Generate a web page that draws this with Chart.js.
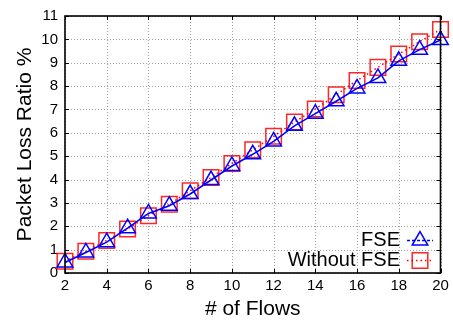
<!DOCTYPE html>
<html>
<head>
<meta charset="utf-8">
<script src="https://cdn.jsdelivr.net/npm/chart.js@4/dist/chart.umd.min.js"></script>
<style>
  html, body { margin: 0; padding: 0; background: #fff; }
  #wrap { width: 453px; height: 322px; }
</style>
</head>
<body>
<div id="wrap"><canvas id="chart" width="453" height="322"></canvas></div>
<script>
// Pérdida de paquetes vs número de flujos
const FLOWS = [2, 3, 4, 5, 6, 7, 8, 9, 10, 11, 12, 13, 14, 15, 16, 17, 18, 19, 20];
const FSE = [0.45, 0.88, 1.32, 1.92, 2.55, 2.88, 3.38, 3.98, 4.58, 5.08, 5.63, 6.3, 6.82, 7.35, 7.9, 8.35, 9.08, 9.56, 9.97];
const SIN_FSE = [0.5, 0.93, 1.39, 1.88, 2.45, 2.94, 3.52, 4.09, 4.69, 5.27, 5.85, 6.46, 7.02, 7.63, 8.24, 8.8, 9.37, 9.9, 10.42];
const SERIES_LABELS = ['FSE', 'Without FSE'];
const X_TITLE = '# of Flows';
const Y_TITLE = 'Packet Loss Ratio %';

const AZUL = '#0000ff';
const ROJO = '#ff0000';
const FUENTE = '"Liberation Sans", Arial, Helvetica, sans-serif';

const puntos = (vals) => FLOWS.map((f, i) => ({ x: f, y: vals[i] }));

// Grilla punteada gris (la de Chart.js sale demasiado sólida)
const grillaPlugin = {
  id: 'grilla',
  beforeDatasetsDraw(chart) {
    const { ctx, chartArea: a, scales } = chart;
    ctx.save();
    ctx.strokeStyle = '#a0a0a0';
    ctx.lineWidth = 1;
    ctx.setLineDash([1, 2]);
    ctx.beginPath();
    scales.x.ticks.forEach((tk) => {
      const px = Math.round(scales.x.getPixelForValue(tk.value)) + 0.5;
      ctx.moveTo(px, a.top); ctx.lineTo(px, a.bottom);
    });
    scales.y.ticks.forEach((tk) => {
      const py = Math.round(scales.y.getPixelForValue(tk.value)) + 0.5;
      ctx.moveTo(a.left, py); ctx.lineTo(a.right, py);
    });
    ctx.stroke();
    ctx.restore();
  },
};

// Marco negro + ticks hacia adentro en los cuatro lados (estilo gnuplot)
const marcoPlugin = {
  id: 'marco',
  afterDatasetsDraw(chart) {
    const { ctx, chartArea: a, scales } = chart;
    ctx.save();
    ctx.strokeStyle = '#000';
    ctx.lineWidth = 1;
    const t = 4;
    ctx.beginPath();
    scales.x.ticks.forEach((tk) => {
      const px = Math.round(scales.x.getPixelForValue(tk.value)) + 0.5;
      ctx.moveTo(px, a.bottom); ctx.lineTo(px, a.bottom - t);
      ctx.moveTo(px, a.top); ctx.lineTo(px, a.top + t);
    });
    scales.y.ticks.forEach((tk) => {
      const py = Math.round(scales.y.getPixelForValue(tk.value)) + 0.5;
      ctx.moveTo(a.left, py); ctx.lineTo(a.left + t, py);
      ctx.moveTo(a.right, py); ctx.lineTo(a.right - t, py);
    });
    ctx.stroke();
    ctx.lineWidth = 1.6;
    ctx.strokeRect(a.left, a.top, a.right - a.left, a.bottom - a.top);
    ctx.restore();
  },
};

// Leyenda dentro del gráfico, abajo a la derecha, texto alineado a la derecha
const leyendaPlugin = {
  id: 'leyendaGnuplot',
  afterDraw(chart) {
    const { ctx } = chart;
    const filas = [
      { y: 240.5, ds: chart.data.datasets[0], dash: [3, 2] },
      { y: 260.5, ds: chart.data.datasets[1], dash: chart.data.datasets[1].borderDash },
    ];
    ctx.save();
    ctx.font = '20px ' + FUENTE;
    ctx.textAlign = 'right';
    ctx.textBaseline = 'middle';
    filas.forEach((f) => {
      ctx.fillStyle = '#000';
      ctx.fillText(f.ds.label, 400, f.y);
      ctx.strokeStyle = f.ds.borderColor;
      ctx.lineWidth = 1.5;
      ctx.setLineDash(f.dash);
      ctx.beginPath();
      ctx.moveTo(407, f.y);
      ctx.lineTo(433, f.y);
      ctx.stroke();
      ctx.setLineDash([]);
      ctx.fillStyle = 'rgba(0,0,0,0)';
      ctx.strokeStyle = f.ds.pointBorderColor;
      ctx.lineWidth = f.ds.pointBorderWidth;
      Chart.helpers.drawPoint(ctx, {
        pointStyle: f.ds.pointStyle,
        radius: f.ds.pointRadius,
        borderWidth: f.ds.pointBorderWidth,
      }, 420, f.y);
    });
    ctx.restore();
  },
};

new Chart(document.getElementById('chart'), {
  type: 'line',
  data: {
    datasets: [
      {
        label: SERIES_LABELS[0],
        data: puntos(FSE),
        borderColor: AZUL,
        borderWidth: 1.6,
        pointStyle: 'triangle',
        pointRadius: 9,
        pointBorderWidth: 1.5,
        pointBorderColor: AZUL,
        pointBackgroundColor: 'transparent',
        tension: 0,
        clip: false,
      },
      {
        label: SERIES_LABELS[1],
        data: puntos(SIN_FSE),
        borderColor: ROJO,
        borderWidth: 1.5,
        borderDash: [1.5, 3],
        pointStyle: 'rect',
        pointRadius: 11,
        pointBorderWidth: 1.5,
        pointBorderColor: 'rgba(255,0,0,0.85)',
        pointBackgroundColor: 'transparent',
        tension: 0,
        clip: false,
      },
    ],
  },
  options: {
    responsive: false,
    animation: false,
    events: [],
    layout: { padding: { top: 15, right: 10, left: 0, bottom: 0 } },
    plugins: { legend: { display: false }, tooltip: { enabled: false } },
    scales: {
      x: {
        type: 'linear',
        min: 2,
        max: 20,
        afterFit: (s) => { s.height = 49; },
        ticks: { stepSize: 2, padding: 4, color: '#000', font: { family: FUENTE, size: 15 } },
        grid: { display: false, drawTicks: false },
        border: { display: false },
        title: { display: true, text: X_TITLE, color: '#000', padding: 0, font: { family: FUENTE, size: 21 } },
      },
      y: {
        min: 0,
        max: 11,
        afterFit: (s) => { s.width = 65; },
        ticks: { stepSize: 1, padding: 7, color: '#000', font: { family: FUENTE, size: 15 } },
        grid: { display: false, drawTicks: false },
        border: { display: false },
        title: { display: true, text: Y_TITLE, color: '#000', padding: { top: 13, bottom: 0 }, font: { family: FUENTE, size: 21 } },
      },
    },
  },
  plugins: [grillaPlugin, marcoPlugin, leyendaPlugin],
});
</script>
</body>
</html>
